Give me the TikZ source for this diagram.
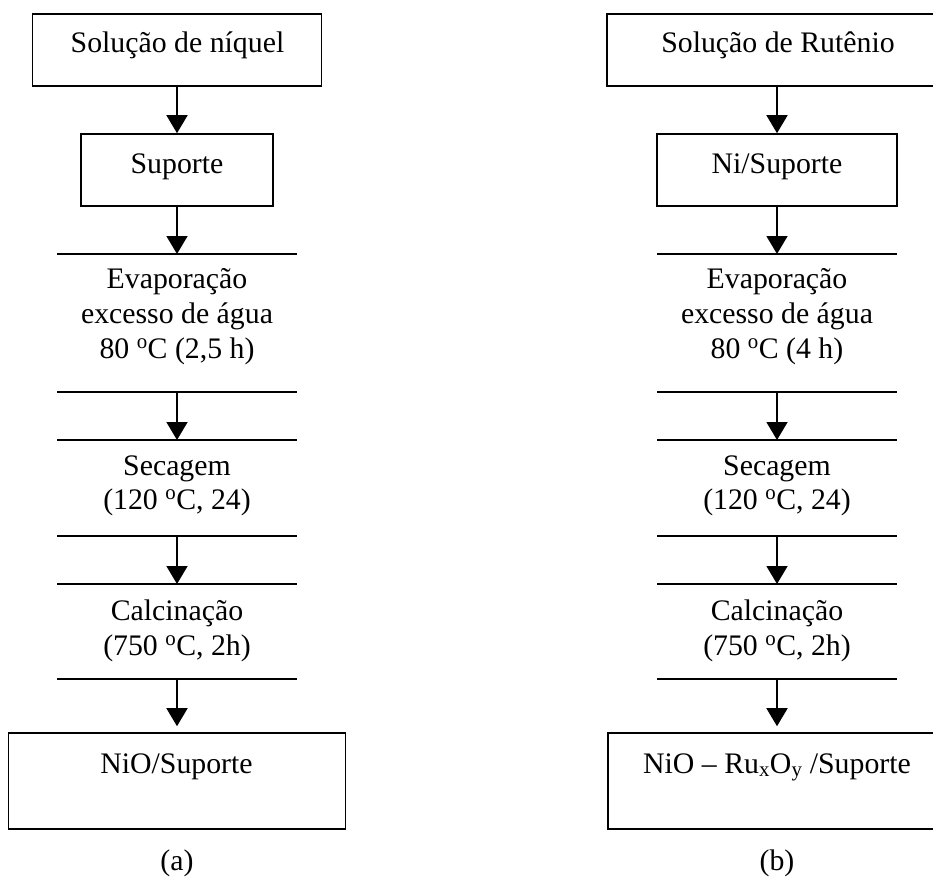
\documentclass[tikz,border=0pt]{standalone}
\usepackage{fontspec}
\setmainfont{Liberation Serif}
\usetikzlibrary{arrows.meta}
\begin{document}
\begin{tikzpicture}[x=1pt,y=-1pt,
  boxst/.style={draw,line width=1.6pt,inner sep=0pt,minimum width=#1},
  lbl/.style={anchor=base,inner sep=0pt,font=\fontsize{29.8}{34}\selectfont},
  hl/.style={line width=1.6pt},
  arr/.style={line width=1.6pt,-{Triangle[length=18pt,width=21pt]}}]
\useasboundingbox (0,0) rectangle (933,895);
\clip (0,0) rectangle (933,895);
% ---------- left column (a) ----------
\node[boxst=289pt,minimum height=72pt] (a1) at (177,50) {};
\node[lbl] (ta1) at (177.5,52) {Solução de níquel};
\node[boxst=192pt,minimum height=72pt] (a2) at (177,170) {};
\node[lbl] (ta2) at (177,173) {Suporte};
\coordinate (al1) at (177,254);
\coordinate (al2) at (177,392);
\coordinate (al3) at (177,440);
\coordinate (al4) at (177,536);
\coordinate (al5) at (177,584);
\coordinate (al6) at (177,679);
\foreach \c in {al1,al2,al3,al4,al5,al6}{\draw[hl] (\c) ++(-120,0) -- ++(240,0);}
\node[lbl] (ta3) at (177,288) {Evaporação};
\node[lbl] (ta4) at (177,323) {excesso de água};
\node[lbl] (ta5) at (177,358) {80 \textsuperscript{o}C (2,5 h)};
\node[lbl] (ta6) at (177,475) {Secagem};
\node[lbl] (ta7) at (177,509) {(120 \textsuperscript{o}C, 24)};
\node[lbl] (ta8) at (177,620) {Calcinação};
\node[lbl] (ta9) at (177,655) {(750 \textsuperscript{o}C, 2h)};
\node[boxst=337pt,minimum height=96pt] (a3) at (177,781) {};
\node[lbl] (ta10) at (176.5,773) {NiO/Suporte};
\node[lbl] (capa) at (177,870) {(a)};
\draw[arr] (a1.south) -- (a2.north);
\draw[arr] (a2.south) -- (al1);
\draw[arr] (al2) -- (al3);
\draw[arr] (al4) -- (al5);
\draw[arr,shorten >=6pt] (al6) -- (a3.north);
% ---------- right column (b) ----------
\node[boxst=340pt,minimum height=72pt] (b1) at (777,50) {};
\node[lbl] (tb1) at (778,52) {Solução de Rutênio};
\node[boxst=240pt,minimum height=72pt] (b2) at (777,170) {};
\node[lbl] (tb2) at (777,173) {Ni/Suporte};
\coordinate (bl1) at (777,254);
\coordinate (bl2) at (777,392);
\coordinate (bl3) at (777,440);
\coordinate (bl4) at (777,536);
\coordinate (bl5) at (777,584);
\coordinate (bl6) at (777,679);
\foreach \c in {bl1,bl2,bl3,bl4,bl5,bl6}{\draw[hl] (\c) ++(-120,0) -- ++(240,0);}
\node[lbl] (tb3) at (777,288) {Evaporação};
\node[lbl] (tb4) at (777,323) {excesso de água};
\node[lbl] (tb5) at (777,358) {80 \textsuperscript{o}C (4 h)};
\node[lbl] (tb6) at (777,475) {Secagem};
\node[lbl] (tb7) at (777,509) {(120 \textsuperscript{o}C, 24)};
\node[lbl] (tb8) at (777,620) {Calcinação};
\node[lbl] (tb9) at (777,655) {(750 \textsuperscript{o}C, 2h)};
\node[boxst=338pt,minimum height=96pt] (b3) at (777,781) {};
\node[lbl] (tb10) at (777,773) {NiO – Ru\textsubscript{x}O\textsubscript{y} /Suporte};
\node[lbl] (capb) at (777,870) {(b)};
\draw[arr] (b1.south) -- (b2.north);
\draw[arr] (b2.south) -- (bl1);
\draw[arr] (bl2) -- (bl3);
\draw[arr] (bl4) -- (bl5);
\draw[arr,shorten >=6pt] (bl6) -- (b3.north);
\end{tikzpicture}
\end{document}
